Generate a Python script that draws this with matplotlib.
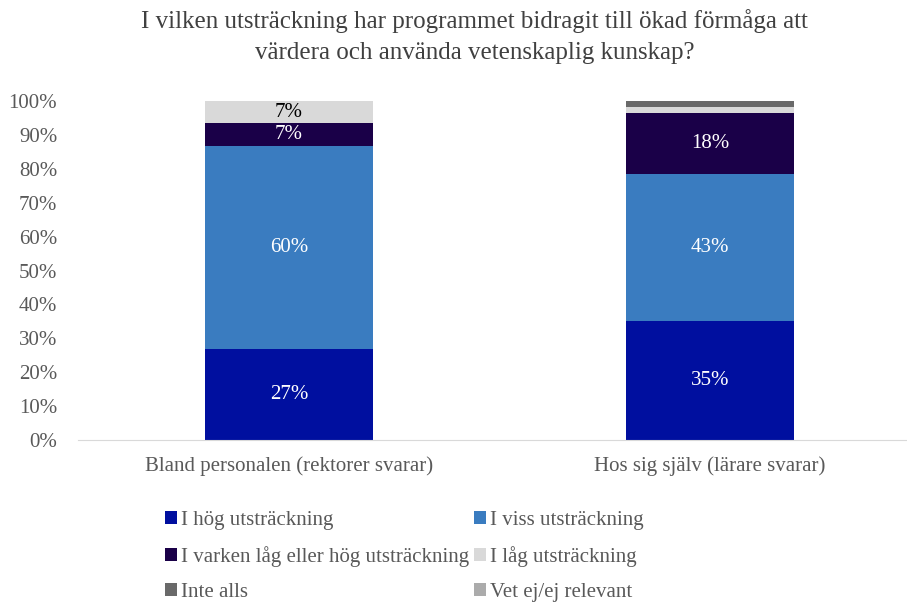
import matplotlib.pyplot as plt
import numpy as np

plt.rcParams['font.family'] = ['Liberation Serif', 'DejaVu Serif']

# data
categories = ['Bland personalen (rektorer svarar)', 'Hos sig själv (lärare svarar)']
series = ['I hög utsträckning', 'I viss utsträckning',
          'I varken låg eller hög utsträckning', 'I låg utsträckning',
          'Inte alls', 'Vet ej/ej relevant']
hog = [26.7, 35.2]
viss = [60.0, 43.2]
varken = [6.7, 18.0]
lag = [6.6, 1.7]
inte = [0.0, 1.9]
vetej = [0.0, 0.0]
colors = ['#000F9F', '#3A7CC0', '#1A0048', '#D9D9D9', '#696969', '#ABABAB']
label_colors = ['white', 'white', 'white', 'black', 'white', 'black']

values = [hog, viss, varken, lag, inte, vetej]

fig = plt.figure(figsize=(9.07, 6.04), dpi=100)
ax = fig.add_axes([78 / 907, 164 / 604, (906 - 78) / 907, (440 - 101) / 604])

x = np.arange(len(categories))
bottom = np.zeros(len(categories))
handles = []
for i, vals in enumerate(values):
    vals = np.array(vals) / 100
    b = ax.bar(x, vals, 0.4, bottom=bottom, color=colors[i], label=series[i])
    handles.append(b)
    for j, v in enumerate(vals):
        # bara etiketter på segment som är stora nog
        if v >= 0.05:
            ax.text(x[j], bottom[j] + v / 2, '%d%%' % round(v * 100),
                    ha='center', va='center', fontsize=15, color=label_colors[i])
    bottom += vals

ax.set_xlim(-0.501, 1.466)
ax.set_ylim(0, 1)
ax.set_yticks(np.arange(0, 1.01, 0.1))
ax.set_yticklabels(['%d%%' % (t * 100) for t in np.arange(0, 1.01, 0.1).round(1)])
ax.set_xticks(x)
ax.set_xticklabels(categories)
ax.tick_params(axis='both', length=0, labelsize=15, colors='#595959')
ax.tick_params(axis='x', pad=12)
ax.tick_params(axis='y', pad=15)
for s in ['top', 'right', 'left']:
    ax.spines[s].set_visible(False)
ax.spines['bottom'].set_color('#D9D9D9')

fig.suptitle('I vilken utsträckning har programmet bidragit till ökad förmåga att\n'
             'värdera och använda vetenskaplig kunskap?',
             x=0.523, y=0.985, fontsize=18, color='#404040', linespacing=1.5)

order = [0, 2, 4, 1, 3, 5]
leg = fig.legend([handles[k] for k in order], [series[k] for k in order],
                 ncol=2, frameon=False, loc='upper left',
                 bbox_to_anchor=(146 / 907, 1 - 492 / 604),
                 fontsize=15, handlelength=0.6, handleheight=0.6,
                 handletextpad=0.2, columnspacing=0.2, labelspacing=0.78)
for t in leg.get_texts():
    t.set_color('#595959')

fig.savefig('out.png', dpi=100)
